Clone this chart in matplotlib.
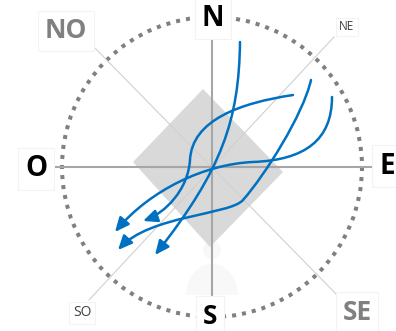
import matplotlib.pyplot as plt
from matplotlib.path import Path
from matplotlib.patches import Circle, Polygon, Ellipse, Rectangle, FancyArrowPatch

# 좌표: 중심 (0,0), 1 단위 = 1 픽셀
radius = 150

# 방위 라벨 (텍스트, x, y, 크기, 굵기, 색)
labels = [
    ("N", 1, 149, 20, "bold", "black"),
    ("S", -2, -149, 19, "bold", "black"),
    ("O", -176, -2, 20, "bold", "black"),
    ("E", 175, 1, 20, "bold", "black"),
    ("NO", -146, 136, 19, "bold", "#808080"),
    ("SE", 145, -145, 19, "bold", "#808080"),
    ("NE", 135, 140, 8.5, "normal", "#404040"),
    ("SO", -130, -146, 10, "normal", "#404040"),
]

# 대각선 (NO-SE, NE-SO)
diag_no_se = [(-120, 122), (127, -130)]
diag_ne_so = [(122, 130), (-123, -133)]

# 회색 마름모 꼭짓점
diamond = [(-9, 78), (71, -5), (-2, -80), (-79, 5)]

# 파란 곡선 (3차 베지어 제어점)
curve_a = [(28, 125), (27, 47), (10, -3), (-57, -88)]
curve_b = [(81, 72), (28, 64), (-20, 47), (-22, 7), (-24, -23), (-47, -46), (-69, -54)]
curve_c = [(99, 87), (91, 52), (53, -8), (31, -33), (18, -48), (-62, -48), (-94, -83)]
curve_d = [(120, 70), (120, 27), (93, 7), (41, 5), (-7, 3), (-62, -23), (-97, -65)]
curves = [curve_a, curve_b, curve_c, curve_d]

fig = plt.figure(figsize=(3.96, 3.31), dpi=100)
ax = fig.add_axes([0, 0, 1, 1])
ax.set_xlim(-212, 184)
ax.set_ylim(-164, 167)
ax.axis('off')

# 점선 원
ax.add_patch(Circle((0, 0), radius, fill=False, ec='#808080', lw=2.9,
                    ls=(0, (1, 1.5)), zorder=1))

# 희미한 실루엣
ax.add_patch(Circle((0, -83), 9, fc='#f8f8f8', ec='none', zorder=1))
body = Ellipse((0, -128), 52, 62, fc='#f8f8f8', ec='none', zorder=1)
ax.add_patch(body)
clip = Rectangle((-40, -128), 80, 40, transform=ax.transData)
body.set_clip_path(clip)

# 마름모
ax.add_patch(Polygon(diamond, closed=True, fc='#d9d9d9', ec='none', zorder=2))

# 대각선
for seg in [diag_no_se, diag_ne_so]:
    xs, ys = zip(*seg)
    ax.plot(xs, ys, color='#d0d0d0', lw=0.8, zorder=3)

# 십자선
ax.plot([-159, 160], [0, 0], color='#a6a6a6', lw=1.5, zorder=3)
ax.plot([0, 0], [129, -129], color='#a6a6a6', lw=1.5, zorder=3)

# 곡선 + 화살표
for pts in curves:
    codes = [Path.MOVETO] + [Path.CURVE4] * (len(pts) - 1)
    arrow = FancyArrowPatch(path=Path(pts, codes),
                            arrowstyle='-|>,head_length=8.5,head_width=3.8',
                            color='#0070c0', lw=1.8, mutation_scale=1, zorder=5)
    ax.add_patch(arrow)

# 라벨
for text, x, y, size, weight, color in labels:
    ax.text(x, y, text, ha='center', va='center', fontsize=size,
            fontweight=weight, color=color, family='Open Sans', zorder=6,
            bbox=dict(boxstyle='square,pad=0.25', fc='white', ec='#f3f3f3', lw=0.8))

fig.savefig('out.png', dpi=100)
